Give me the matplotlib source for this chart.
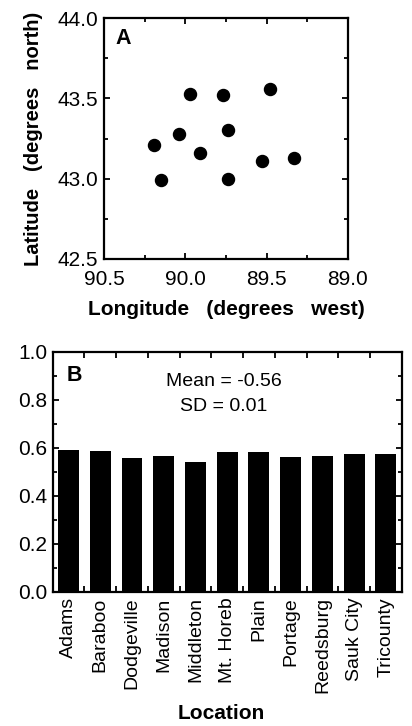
import matplotlib
matplotlib.use("Agg")
import matplotlib.pyplot as plt
from matplotlib.ticker import MultipleLocator, FixedLocator

plt.rcParams['font.family'] = ['Liberation Sans', 'DejaVu Sans']

# Panel A: site coordinates
longitude = [89.97, 89.77, 89.48, 90.04, 89.74, 90.19, 89.91, 89.53, 89.33, 90.15, 89.74]
latitude = [43.53, 43.52, 43.56, 43.28, 43.30, 43.21, 43.16, 43.11, 43.13, 42.99, 43.00]

# Panel B: values by location
locations = ['Adams', 'Baraboo', 'Dodgeville', 'Madison', 'Middleton', 'Mt. Horeb',
             'Plain', 'Portage', 'Reedsburg', 'Sauk City', 'Tricounty']
values = [0.590, 0.588, 0.558, 0.567, 0.542, 0.581, 0.582, 0.561, 0.565, 0.572, 0.575]

W, H = 412, 726
fig = plt.figure(figsize=(W / 100, H / 100), dpi=100)

tick_kw = dict(direction='in', top=True, right=True, width=1.3)


def style_spines(ax):
    for s in ax.spines.values():
        s.set_linewidth(1.6)


# ---- Panel A ----
axA = fig.add_axes([104 / W, 1 - 259 / H, 244 / W, 241 / H])
axA.scatter(longitude, latitude, s=75, color='black', zorder=3)
axA.set_xlim(90.5, 89.0)
axA.set_ylim(42.5, 44.0)
axA.xaxis.set_major_locator(FixedLocator([90.5, 90.0, 89.5, 89.0]))
axA.xaxis.set_minor_locator(FixedLocator([90.25, 89.75, 89.25]))
axA.yaxis.set_major_locator(MultipleLocator(0.5))
axA.yaxis.set_minor_locator(MultipleLocator(0.25))
axA.xaxis.set_major_formatter(plt.FormatStrFormatter('%.1f'))
axA.yaxis.set_major_formatter(plt.FormatStrFormatter('%.1f'))
axA.tick_params(which='major', length=4, labelsize=15, **tick_kw)
axA.tick_params(which='minor', length=3, **tick_kw)
axA.tick_params(axis='x', which='major', pad=8)
axA.tick_params(axis='y', which='major', pad=4)
style_spines(axA)
axA.text(0.045, 0.96, 'A', transform=axA.transAxes, fontsize=15.5,
         fontweight='bold', va='top', ha='left')
axA.set_xlabel('Longitude   (degrees   west)', fontsize=15, fontweight='bold')
axA.xaxis.set_label_coords(0.5, -0.17)
axA.set_ylabel('Latitude   (degrees   north)', fontsize=14.5, fontweight='bold')
axA.yaxis.set_label_coords(-0.25, 0.5)

# ---- Panel B ----
axB = fig.add_axes([52.7 / W, 1 - 591.7 / H, 349 / W, 240 / H])
xpos = list(range(len(locations)))
axB.bar(xpos, values, width=0.66, color='black')
axB.set_xlim(-0.5, len(locations) - 0.5)
axB.set_ylim(0.0, 1.0)
axB.set_xticks(xpos)
axB.set_xticklabels(locations, rotation=90, fontsize=14)
axB.xaxis.set_minor_locator(FixedLocator([i + 0.5 for i in xpos[:-1]]))
axB.yaxis.set_major_locator(MultipleLocator(0.2))
axB.yaxis.set_minor_locator(MultipleLocator(0.1))
axB.yaxis.set_major_formatter(plt.FormatStrFormatter('%.1f'))
axB.tick_params(axis='x', which='major', length=0, pad=4)
axB.tick_params(axis='x', which='minor', length=4, **tick_kw)
axB.tick_params(axis='y', which='major', length=4, labelsize=15, pad=4, **tick_kw)
axB.tick_params(axis='y', which='minor', length=3, **tick_kw)
style_spines(axB)
axB.text(0.04, 0.945, 'B', transform=axB.transAxes, fontsize=15.5,
         fontweight='bold', va='top', ha='left')
axB.text(0.49, 0.875, 'Mean = -0.56', transform=axB.transAxes, fontsize=14,
         ha='center', va='center')
axB.text(0.49, 0.771, 'SD = 0.01', transform=axB.transAxes, fontsize=14,
         ha='center', va='center')
axB.set_xlabel('Location', fontsize=15, fontweight='bold')
axB.xaxis.set_label_coords(0.482, -0.468)

fig.savefig('out.png', dpi=100)
